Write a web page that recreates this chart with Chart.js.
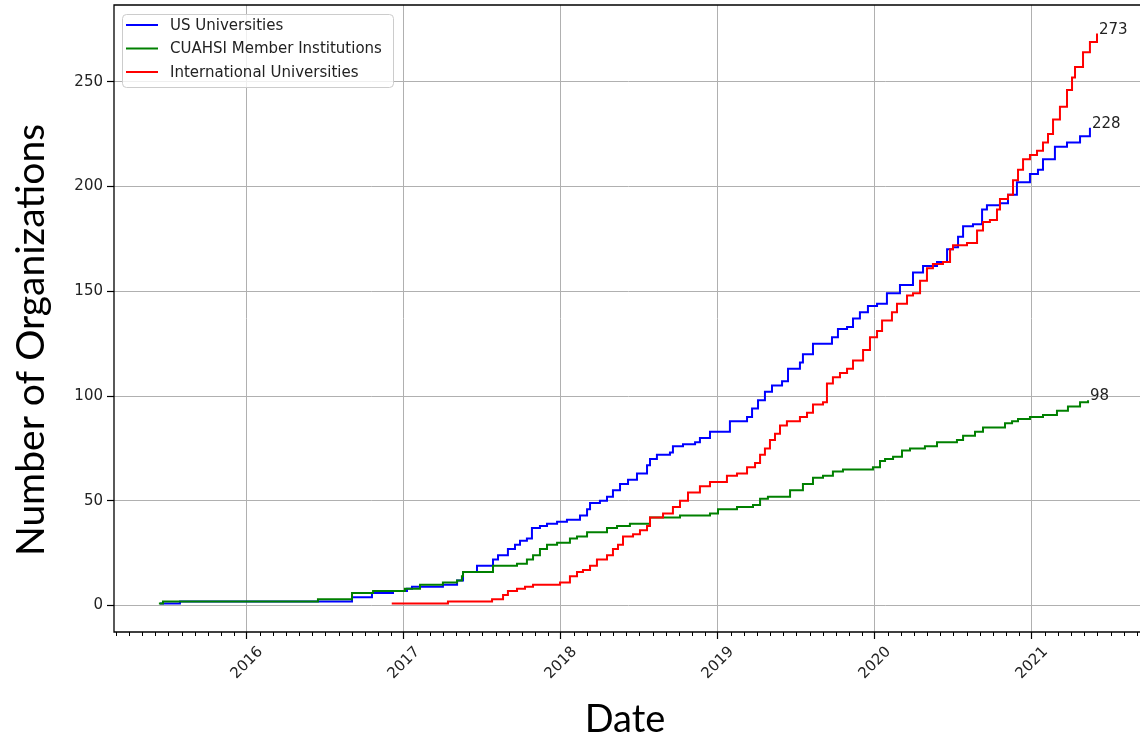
<!DOCTYPE html>
<html>
<head>
<meta charset="utf-8">
<script src="https://cdn.jsdelivr.net/npm/chart.js@4.4.1/dist/chart.umd.min.js"></script>
<style>
html,body{margin:0;padding:0;background:#fff;overflow:hidden;width:1140px;height:737px}
canvas{display:block}
</style>
</head>
<body>
<canvas id="c" width="1150" height="737" style="width:1150px;height:737px"></canvas>
<script>
// ---- data (x values are decimal years) ----
const yearTicks = [2016, 2017, 2018, 2019, 2020, 2021];
const countTicks = [0, 50, 100, 150, 200, 250];
const seriesLabels = ['US Universities', 'CUAHSI Member Institutions', 'International Universities'];
const seriesColors = ['#0000ff', '#008000', '#ff0000'];
const xTitle = 'Date';
const yTitle = 'Number of Organizations';

const usDates = [2015.446, 2015.573, 2016.669, 2016.796, 2016.930, 2017.019, 2017.051, 2017.248, 2017.338, 2017.376,
  2017.465, 2017.567, 2017.599, 2017.662, 2017.707, 2017.739, 2017.783, 2017.815, 2017.866, 2017.911,
  2017.975, 2018.038, 2018.121, 2018.166, 2018.185, 2018.248, 2018.293, 2018.331, 2018.376, 2018.427,
  2018.484, 2018.548, 2018.567, 2018.611, 2018.694, 2018.713, 2018.777, 2018.854, 2018.885, 2018.949,
  2019.076, 2019.185, 2019.217, 2019.255, 2019.299, 2019.344, 2019.408, 2019.446, 2019.522, 2019.541,
  2019.605, 2019.726, 2019.764, 2019.822, 2019.860, 2019.904, 2019.955, 2020.013, 2020.076, 2020.159,
  2020.242, 2020.306, 2020.395, 2020.459, 2020.497, 2020.529, 2020.561, 2020.624, 2020.682, 2020.713,
  2020.796, 2020.847, 2020.904, 2020.987, 2021.038, 2021.070, 2021.146, 2021.223, 2021.306, 2021.369];
const usCounts = [1, 2, 4, 6, 7, 8, 9, 10, 12, 16,
  19, 22, 24, 27, 29, 31, 32, 37, 38, 39,
  40, 41, 43, 46, 49, 50, 52, 55, 58, 60,
  63, 67, 70, 72, 73, 76, 77, 78, 80, 83,
  88, 90, 94, 98, 102, 105, 107, 113, 116, 120,
  125, 128, 132, 133, 137, 140, 143, 144, 149, 153,
  159, 162, 164, 170, 171, 176, 181, 182, 189, 191,
  192, 196, 202, 206, 208, 213, 219, 221, 224, 228];

const cuahsiDates = [2015.439, 2015.465, 2016.452, 2016.669, 2016.803, 2017.006, 2017.102, 2017.248, 2017.338, 2017.369,
  2017.376, 2017.567, 2017.720, 2017.783, 2017.822, 2017.866, 2017.911, 2017.975, 2018.057, 2018.102,
  2018.166, 2018.293, 2018.357, 2018.439, 2018.567, 2018.758, 2018.949, 2019.000, 2019.121, 2019.223,
  2019.268, 2019.318, 2019.459, 2019.541, 2019.605, 2019.669, 2019.732, 2019.796, 2019.987, 2020.032,
  2020.064, 2020.115, 2020.172, 2020.223, 2020.318, 2020.395, 2020.522, 2020.561, 2020.637, 2020.688,
  2020.828, 2020.873, 2020.911, 2020.987, 2021.070, 2021.159, 2021.229, 2021.306, 2021.357];
const cuahsiCounts = [1, 2, 3, 6, 7, 8, 10, 11, 12, 14,
  16, 19, 20, 22, 24, 27, 29, 30, 32, 33,
  35, 37, 38, 39, 42, 43, 44, 46, 47, 48,
  51, 52, 55, 58, 61, 62, 64, 65, 66, 69,
  70, 71, 74, 75, 76, 78, 79, 81, 83, 85,
  87, 88, 89, 90, 91, 93, 95, 97, 98];

const intlDates = [2016.922, 2017.280, 2017.561, 2017.631, 2017.662, 2017.720, 2017.771, 2017.822, 2017.994, 2018.057,
  2018.102, 2018.140, 2018.185, 2018.229, 2018.293, 2018.331, 2018.363, 2018.395, 2018.459, 2018.503,
  2018.548, 2018.567, 2018.650, 2018.713, 2018.758, 2018.809, 2018.885, 2018.949, 2019.057, 2019.121,
  2019.185, 2019.236, 2019.268, 2019.299, 2019.331, 2019.363, 2019.395, 2019.439, 2019.522, 2019.567,
  2019.605, 2019.669, 2019.694, 2019.732, 2019.777, 2019.822, 2019.860, 2019.924, 2019.968, 2020.013,
  2020.045, 2020.108, 2020.140, 2020.204, 2020.242, 2020.287, 2020.331, 2020.369, 2020.433, 2020.478,
  2020.497, 2020.586, 2020.650, 2020.688, 2020.732, 2020.777, 2020.796, 2020.847, 2020.879, 2020.911,
  2020.943, 2020.987, 2021.032, 2021.070, 2021.102, 2021.134, 2021.178, 2021.223, 2021.255, 2021.274,
  2021.325, 2021.369, 2021.414];
const intlCounts = [1, 2, 3, 5, 7, 8, 9, 10, 11, 14,
  16, 17, 19, 22, 24, 27, 29, 33, 34, 36,
  38, 42, 44, 47, 50, 54, 57, 59, 62, 63,
  66, 68, 72, 75, 79, 82, 86, 88, 90, 92,
  96, 97, 106, 109, 111, 113, 117, 122, 128, 131,
  136, 140, 144, 148, 149, 155, 161, 163, 164, 170,
  172, 173, 179, 183, 184, 189, 194, 196, 203, 208,
  213, 215, 217, 221, 225, 232, 238, 246, 252, 257,
  264, 269, 273];

const seriesDates = [usDates, cuahsiDates, intlDates];
const seriesCounts = [usCounts, cuahsiCounts, intlCounts];

const TICK_FONT = '15px "DejaVu Sans", sans-serif';
const TITLE_FONT_Y = '39px Lato, "Open Sans", sans-serif';
const TITLE_FONT_X = '38px Lato, "Open Sans", sans-serif';

const deco = {
  id: 'deco',
  beforeDraw(chart) {
    const ctx = chart.ctx;
    ctx.save();
    ctx.fillStyle = '#fff';
    ctx.fillRect(0, 0, chart.width, chart.height);
    ctx.restore();
  },
  afterDatasetsDraw(chart) {
    const ctx = chart.ctx;
    const a = chart.chartArea;
    const xs = chart.scales.x;
    ctx.save();
    // minor monthly ticks
    ctx.strokeStyle = '#000';
    ctx.lineWidth = 1;
    const m0 = Math.ceil(xs.min * 12), m1 = Math.floor(xs.max * 12);
    for (let m = m0; m <= m1; m++) {
      if (m % 12 === 0) continue;
      const px = Math.round(xs.getPixelForValue(m / 12)) + 0.5;
      ctx.beginPath();
      ctx.moveTo(px, a.bottom);
      ctx.lineTo(px, a.bottom + 4);
      ctx.stroke();
    }
    // spines
    ctx.lineWidth = 1.3;
    ctx.beginPath();
    ctx.rect(a.left, a.top, a.right - a.left, a.bottom - a.top);
    ctx.stroke();
    // end annotations
    ctx.font = TICK_FONT;
    ctx.fillStyle = '#222';
    ctx.textAlign = 'left';
    ctx.textBaseline = 'alphabetic';
    const ys = chart.scales.y;
    seriesDates.forEach((d, i) => {
      const c = seriesCounts[i];
      const lx = xs.getPixelForValue(d[d.length - 1]);
      const ly = ys.getPixelForValue(c[c.length - 1]);
      ctx.fillText(String(c[c.length - 1]), lx + 2, ly);
    });
    ctx.restore();
  },
  afterDraw(chart) {
    const ctx = chart.ctx;
    const a = chart.chartArea;
    const xs = chart.scales.x, ys = chart.scales.y;
    ctx.save();
    ctx.fillStyle = '#222';
    ctx.font = TICK_FONT;
    // y tick labels
    ctx.textAlign = 'right';
    ctx.textBaseline = 'middle';
    countTicks.forEach(v => ctx.fillText(String(v), a.left - 11, ys.getPixelForValue(v)));
    // x tick labels, rotated 45 and centred on tick
    ctx.textAlign = 'center';
    ctx.textBaseline = 'middle';
    yearTicks.forEach(v => {
      ctx.save();
      ctx.translate(xs.getPixelForValue(v), a.bottom + 31);
      ctx.rotate(-Math.PI / 4);
      ctx.fillText(String(v), 0, 0);
      ctx.restore();
    });
    // axis titles
    ctx.fillStyle = '#000';
    ctx.font = TITLE_FONT_X;
    ctx.textAlign = 'center';
    ctx.textBaseline = 'alphabetic';
    ctx.fillText(xTitle, 625, 732);
    ctx.save();
    ctx.translate(44, 340);
    ctx.rotate(-Math.PI / 2);
    ctx.font = TITLE_FONT_Y;
    ctx.fillText(yTitle, 0, 0);
    ctx.restore();
    // legend
    const lx = a.left + 8, ly = a.top + 9, lw = 271, lh = 73;
    ctx.fillStyle = 'rgba(255,255,255,0.8)';
    ctx.strokeStyle = '#cccccc';
    ctx.lineWidth = 1;
    ctx.beginPath();
    ctx.roundRect(lx + 0.5, ly + 0.5, lw, lh, 4);
    ctx.fill();
    ctx.stroke();
    ctx.font = TICK_FONT;
    ctx.textAlign = 'left';
    ctx.textBaseline = 'middle';
    seriesLabels.forEach((name, i) => {
      const yy = ly + 11 + i * 23.5;
      ctx.strokeStyle = seriesColors[i];
      ctx.lineWidth = 2;
      ctx.beginPath();
      ctx.moveTo(lx + 4, yy);
      ctx.lineTo(lx + 36, yy);
      ctx.stroke();
      ctx.fillStyle = '#222';
      ctx.fillText(name, lx + 48, yy + 1);
    });
    ctx.restore();
  }
};

const datasets = seriesLabels.map((name, i) => ({
  label: name,
  data: seriesDates[i].map((d, k) => ({ x: d, y: seriesCounts[i][k] })),
  borderColor: seriesColors[i],
  backgroundColor: seriesColors[i],
  borderWidth: 2,
  pointRadius: 0,
  stepped: true,
  fill: false,
  order: 3 - i
}));

new Chart(document.getElementById('c'), {
  type: 'line',
  data: { datasets },
  options: {
    responsive: false,
    animation: false,
    devicePixelRatio: 1,
    layout: { padding: { left: 0, top: 5, right: 7, bottom: 0 } },
    plugins: { legend: { display: false }, tooltip: { enabled: false } },
    scales: {
      x: {
        type: 'linear',
        min: 2015.153,
        max: 2021.707,
        afterBuildTicks(s) { s.ticks = yearTicks.map(v => ({ value: v })); },
        afterFit(s) { s.height = 105; },
        ticks: { display: false },
        grid: { color: '#b0b0b0', lineWidth: 1, tickLength: 7, tickColor: '#000', tickWidth: 1.2 },
        border: { display: false }
      },
      y: {
        type: 'linear',
        min: -12.6,
        max: 286.6,
        afterBuildTicks(s) { s.ticks = countTicks.map(v => ({ value: v })); },
        afterFit(s) { s.width = 114; },
        ticks: { display: false },
        grid: { color: '#b0b0b0', lineWidth: 1, tickLength: 7, tickColor: '#000', tickWidth: 1.2 },
        border: { display: false }
      }
    }
  },
  plugins: [deco]
});
</script>
</body>
</html>
